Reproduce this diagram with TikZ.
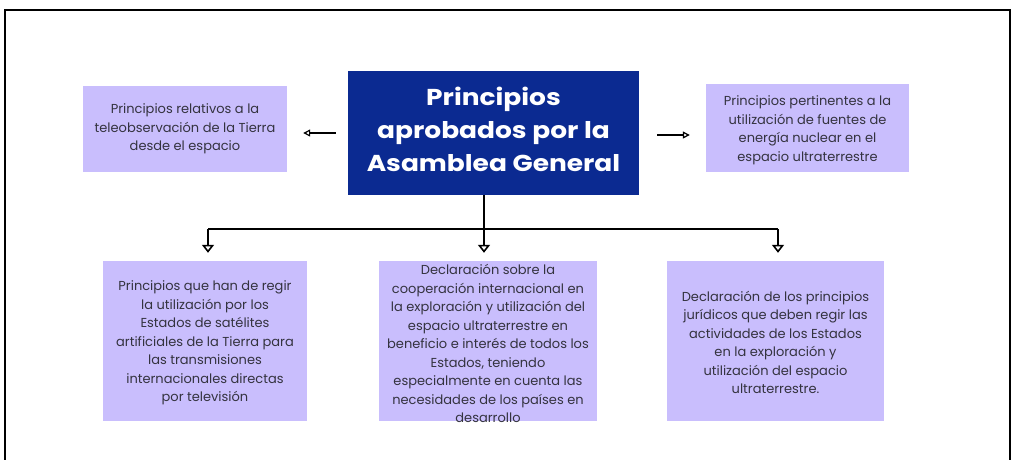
\documentclass[tikz,border=0pt]{standalone}
\usepackage{fontspec}
\setmainfont{Poppins}
\newfontfamily\titlefont[FakeStretch=1.15]{Poppins}
\usetikzlibrary{arrows.meta,calc}
\definecolor{lav}{HTML}{C9BEFD}
\definecolor{navy}{HTML}{0B2A91}
\definecolor{txt}{HTML}{34333F}
\begin{document}
\begin{tikzpicture}[x=1pt,y=-1pt,
  boxbg/.style={rectangle,fill=lav,draw=none,inner sep=0pt},
  boxtext/.style={align=center,text=txt,inner sep=0pt,font=\fontsize{13}{18.5}\selectfont},
  titletext/.style={align=center,text=white,inner sep=0pt,font=\titlefont\fontsize{23}{33}\selectfont\bfseries},
  tree/.style={line width=2.2pt,black},
  treearrow/.style={tree,-{Triangle[open,width=12pt,length=8pt,line width=1.6pt]},shorten >=8pt},
  sidearrow/.style={line width=1.3pt,black,-{Triangle[open,width=7pt,length=7pt,line width=1.2pt]}}]
\useasboundingbox (0,0) rectangle (1013,459);
\clip (0,0) rectangle (1013,459);
\fill[white] (0,0) rectangle (1013,459);
\draw[line width=2pt] (5,480) -- (5,10) -- (1010,10) -- (1010,480);

% central box
\node[rectangle,fill=navy,inner sep=0pt,minimum width=291pt,minimum height=124pt] (c) at (493.5,133) {};
\node[titletext] (ct) at (493.5,129) {Principios\\aprobados por la\\Asamblea General};

% top side boxes
\node[boxbg,minimum width=204pt,minimum height=86pt] (l) at (185,129) {};
\node[boxtext] (lt) at (l.center) {Principios relativos a la\\teleobservación de la Tierra\\desde el espacio};
\node[boxbg,minimum width=203pt,minimum height=88pt] (r) at (807.5,128) {};
\node[boxtext] (rt) at ([yshift=-2pt]r.center) {Principios pertinentes a la\\utilización de fuentes de\\energía nuclear en el\\espacio ultraterrestre};

% bottom boxes
\node[boxbg,minimum width=204pt,minimum height=160pt] (b1) at (205,341) {};
\node[boxtext] (b1t) at ([yshift=-2pt]b1.center) {Principios que han de regir\\la utilización por los\\Estados de satélites\\artificiales de la Tierra para\\las transmisiones\\internacionales directas\\por televisión};
\node[boxbg,minimum width=218pt,minimum height=160pt] (b2) at (488,341) {};
\node[boxtext] (b2t) at ([yshift=-2.5pt]b2.center) {Declaración sobre la\\cooperación internacional en\\la exploración y utilización del\\espacio ultraterrestre en\\beneficio e interés de todos los\\Estados, teniendo\\especialmente en cuenta las\\necesidades de los países en\\desarrollo};
\node[boxbg,minimum width=217pt,minimum height=160pt] (b3) at (775.5,341) {};
\node[boxtext] (b3t) at ([yshift=-1.5pt]b3.center) {Declaración de los principios\\jurídicos que deben regir las\\actividades de los Estados\\en la exploración y\\utilización del espacio\\ultraterrestre.};

% side arrows
\draw[sidearrow,shorten <=12pt,shorten >=16pt] (c.west) -- (c.west -| l.east);
\draw[sidearrow,shorten <=18pt,shorten >=16pt] ([yshift=-2pt]c.east) -- ([yshift=-2pt]c.east -| r.west);

% tree connectors
\coordinate (jc) at ([xshift=-4pt]b2.north |- 0,229);
\coordinate (jl) at ([xshift=3pt]b1.north |- 0,229);
\coordinate (jr) at ([xshift=2.5pt]b3.north |- 0,229);
\draw[tree] (jl) -- (jr);
\draw[treearrow] (jc |- c.south) -- (jc |- b2.north);
\draw[treearrow] (jl) -- (jl |- b1.north);
\draw[treearrow] (jr) -- (jr |- b3.north);
\end{tikzpicture}
\end{document}
